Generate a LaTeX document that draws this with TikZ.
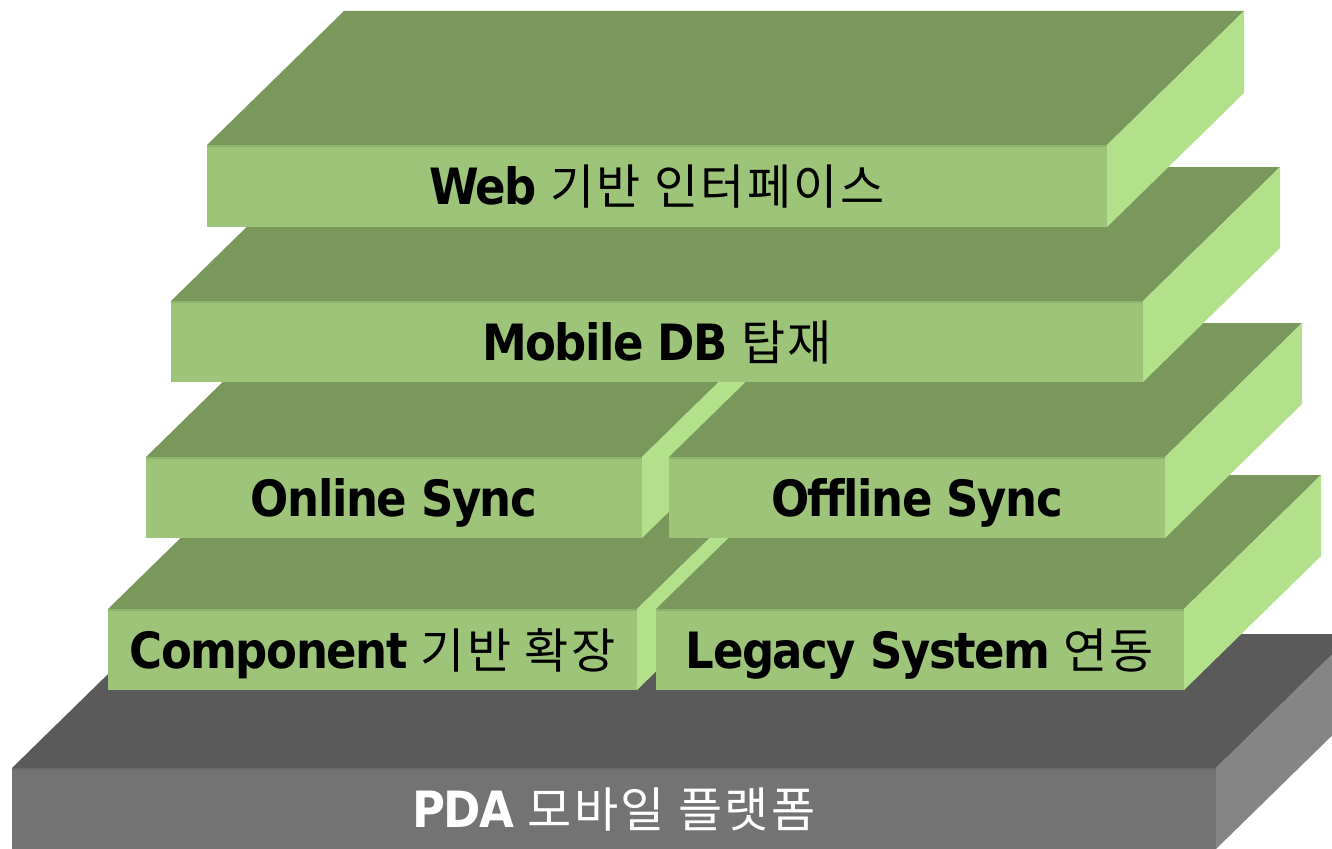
\documentclass[tikz,border=0pt]{standalone}
\usepackage{fontspec}
\newfontfamily\latfont{DejaVu Sans Bold}[FakeStretch=0.9, LetterSpace=-3, Ligatures=NoCommon]
\newfontfamily\krfont{Noto Sans CJK KR}[LetterSpace=5]
\definecolor{gtop}{HTML}{7A985C}
\definecolor{gfront}{HTML}{9DC479}
\definecolor{gside}{HTML}{B3E08A}
\definecolor{gedge}{HTML}{8DB46B}
\definecolor{ktop}{HTML}{5A5A5A}
\definecolor{kfront}{HTML}{737373}
\definecolor{kside}{HTML}{858585}
\definecolor{kedge}{HTML}{6A6A6A}
% #1 x1, #2 x2, #3 ytop, #4 ybot, #5 top, #6 front, #7 side, #8 edge
\newcommand\slabdraw[8]{%
  \fill[#5] (#1,#3) -- (#1+137,#3-134) -- (#2+137,#3-134) -- (#2,#3) -- cycle;
  \fill[#7] (#2,#3) -- (#2+137,#3-134) -- (#2+137,#4-134) -- (#2,#4) -- cycle;
  \fill[#6] (#1,#3) rectangle (#2,#4);
  \draw[#8, line width=2] (#1,#3+1) -- (#2,#3+1);
}
\tikzset{
  lbl/.style={anchor=base, inner sep=0pt, text=black},
  lblw/.style={lbl, text=white},
}
\newcommand\latb[1]{{\latfont\fontsize{50}{52}\selectfont #1}}
\newcommand\krt[1]{{\krfont\fontsize{48}{50}\selectfont #1}}
\begin{document}
\begin{tikzpicture}[x=1pt,y=-1pt]
\useasboundingbox (0,0) rectangle (1332,848);
\clip (0,0) rectangle (1332,848);
% PDA platform
\slabdraw{12}{1216}{768}{849}{ktop}{kfront}{kside}{kedge}
\node[lblw] (pda) at (614,827) {\latb{PDA}\krt{ 모바일 플랫폼}};
% Component / Legacy
\slabdraw{108}{637}{609}{690}{gtop}{gfront}{gside}{gedge}
\node[lbl] (comp) at (372.5,668) {\latb{Component}\krt{ 기반 확장}};
\slabdraw{656}{1184}{609}{690}{gtop}{gfront}{gside}{gedge}
\node[lbl] (legacy) at (920,668) {\latb{Legacy System}\krt{ 연동}};
% Online / Offline
\slabdraw{146}{642}{457}{538}{gtop}{gfront}{gside}{gedge}
\node[lbl] (online) at (394,516) {\latb{Online Sync}};
\slabdraw{669}{1165}{457}{538}{gtop}{gfront}{gside}{gedge}
\node[lbl] (offline) at (917,516) {\latb{Offline Sync}};
% Mobile DB
\slabdraw{171}{1143}{301}{382}{gtop}{gfront}{gside}{gedge}
\node[lbl] (mobile) at (657,360) {\latb{Mobile DB}\krt{ 탑재}};
% Web
\slabdraw{207}{1107}{145}{227}{gtop}{gfront}{gside}{gedge}
\node[lbl] (web) at (657,204) {\latb{Web}\krt{ 기반 인터페이스}};
\end{tikzpicture}
\end{document}
